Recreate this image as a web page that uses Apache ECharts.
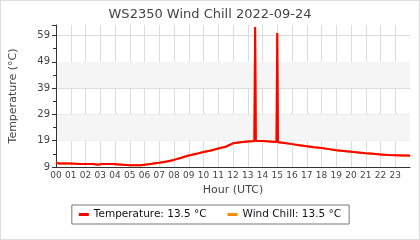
<!DOCTYPE html>
<html><head><meta charset="utf-8">
<script src="https://cdn.jsdelivr.net/npm/echarts@6/dist/echarts.min.js"></script>
<style>
html,body{margin:0;padding:0;background:#fff;}
#wrap{position:relative;width:420px;height:240px;}
#c{width:420px;height:240px;}
#frame{position:absolute;left:0;top:0;width:420px;height:240px;box-sizing:border-box;border:1px solid #dcdcdc;pointer-events:none;}
</style></head><body><div id="wrap"><div id="c"></div><div id="frame"></div></div>
<script>
const hours = [0,0.2,1.0,1.6,2.5,2.9,3.1,3.8,3.9,5.0,5.8,6.0,6.5,7.0,7.5,8.0,8.5,9.0,9.5,10.0,10.5,11.0,11.5,12.0,12.5,13.0,13.45,13.5,13.55,14.0,14.5,14.95,15.0,15.05,15.5,16.0,16.5,17.0,17.5,18.0,18.5,19.0,19.5,20.0,20.5,21.0,21.5,22.0,22.5,23.0,23.5,23.9,24.0];
const temperature = [10.7,10.3,10.3,10.1,10.1,9.9,10.1,10.1,9.7,9.7,9.7,9.9,10.2,10.6,11.1,11.7,12.5,13.4,14.0,14.7,15.3,16.0,16.7,18.0,18.4,18.7,18.9,62.2,18.9,18.9,18.7,18.5,60.0,18.4,18.1,17.7,17.3,16.9,16.5,16.2,15.8,15.4,15.1,14.8,14.5,14.2,14.0,13.8,13.6,13.5,13.4,13.4,13.1];
const windChill = [10.7,10.3,10.3,10.1,10.1,9.9,10.1,10.1,9.7,9.7,9.7,9.9,10.2,10.6,11.1,11.7,12.5,13.4,14.0,14.7,15.3,16.0,16.7,18.0,18.4,18.7,18.9,62.2,18.9,18.9,18.7,18.5,60.0,18.4,18.1,17.7,17.3,16.9,16.5,16.2,15.8,15.4,15.1,14.8,14.5,14.2,14.0,13.8,13.6,13.5,13.4,13.4,13.1];
const currentTemp = 13.5;
const currentChill = 13.5;
const bands = [[19,29],[39,49]];
const yTicks = [9,19,29,39,49,59];

const font = 'DejaVu Sans';
const tName = 'Temperature: ' + currentTemp.toFixed(1) + ' °C';
const wName = 'Wind Chill: ' + currentChill.toFixed(1) + ' °C';
const chart = echarts.init(document.getElementById('c'));
chart.setOption({
  animation: false,
  textStyle: {fontFamily: font},
  title: {text: 'WS2350 Wind Chill 2022-09-24', left: 'center', top: 3,
    textStyle: {fontFamily: font, fontSize: 13, fontWeight: 'normal', color: '#444'}},
  grid: {left: 56, right: 10, top: 25, bottom: 73},
  legend: {
    bottom: 16, left: 'center', borderColor: '#777', borderWidth: 1, borderRadius: 0,
    padding: [4, 8, 4, 7], itemGap: 21, itemWidth: 10, itemHeight: 3, icon: 'rect',
    textStyle: {fontFamily: font, fontSize: 10.5, color: '#111'},
    data: [tName, wName]
  },
  xAxis: {
    type: 'value', min: 0, max: 24, interval: 1,
    name: 'Hour (UTC)', nameLocation: 'middle', nameGap: 18,
    nameTextStyle: {fontFamily: font, fontSize: 11, color: '#444'},
    axisLine: {onZero: false, lineStyle: {color: '#333'}},
    axisTick: {show: false},
    axisLabel: {fontSize: 9, color: '#444', margin: 4, showMaxLabel: false,
      formatter: v => String(v).padStart(2, '0')},
    splitLine: {show: true, showMaxLine: false, lineStyle: {color: '#dcdcdc'}}
  },
  yAxis: {
    type: 'value', min: 9, max: 63, interval: 10,
    name: 'Temperature (°C)', nameLocation: 'middle', nameGap: 37,
    nameTextStyle: {fontFamily: font, fontSize: 11, color: '#444'},
    axisLine: {show: true, lineStyle: {color: '#333'}},
    axisTick: {show: true, length: 4, lineStyle: {color: '#333'}},
    minorTick: {show: true, splitNumber: 2, length: 3, lineStyle: {color: '#333'}},
    axisLabel: {fontSize: 10, color: '#444', margin: 6, showMaxLabel: false,
      formatter: v => yTicks.includes(v) ? String(v) : ''},
    splitLine: {show: true, showMaxLine: false, lineStyle: {color: '#dcdcdc'}}
  },
  series: [
    {name: wName, type: 'line', showSymbol: false, lineStyle: {width: 2, color: '#ff8c00'},
      itemStyle: {color: '#ff8c00'},
      data: hours.map((h, i) => [h, windChill[i]]), z: 2},
    {name: tName, type: 'line', showSymbol: false, lineStyle: {width: 2, color: '#ff0000'},
      itemStyle: {color: '#ff0000'},
      data: hours.map((h, i) => [h, temperature[i]]), z: 3,
      markArea: {silent: true, itemStyle: {color: '#f5f5f5'}, z: 0,
        data: bands.map(b => [{yAxis: b[0]}, {yAxis: b[1]}])}}
  ]
});
</script></body></html>
